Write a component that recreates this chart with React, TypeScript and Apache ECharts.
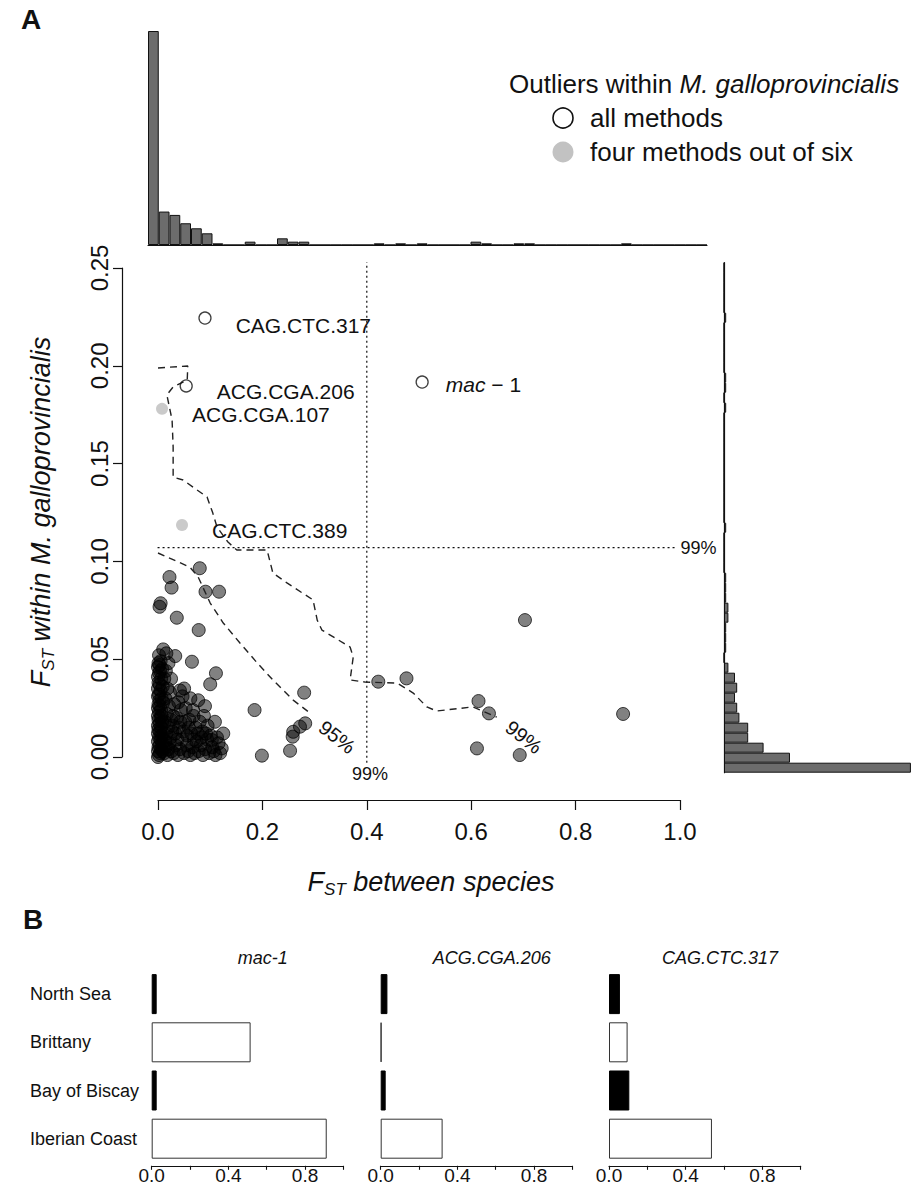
import React, { useEffect, useRef } from "react";
import * as echarts from "echarts";

const FONT = '"Liberation Sans", Arial, Helvetica, sans-serif';

// ---------- Panel A: tick labels ----------
const mainXTicks = ["0.0", "0.2", "0.4", "0.6", "0.8", "1.0"];
const mainYTicks = ["0.00", "0.05", "0.10", "0.15", "0.20", "0.25"];

// ---------- Panel A: SNP points (FST between species, FST within M. galloprovincialis) ----------
const snpPoints: [number, number][] = [
  // column near x = 0
  [0.0, 0.0], [0.002, 0.001], [0.004, 0.002], [0.0, 0.003], [0.006, 0.004], [0.001, 0.005],
  [0.003, 0.006], [0.008, 0.007], [0.0, 0.008], [0.005, 0.009], [0.002, 0.01], [0.007, 0.011],
  [0.0, 0.012], [0.004, 0.013], [0.001, 0.014], [0.006, 0.015], [0.0, 0.016], [0.003, 0.017],
  [0.008, 0.018], [0.001, 0.019], [0.005, 0.02], [0.0, 0.021], [0.002, 0.023], [0.006, 0.024],
  [0.0, 0.025], [0.004, 0.026], [0.001, 0.027], [0.003, 0.029], [0.007, 0.03], [0.0, 0.031],
  [0.002, 0.032], [0.005, 0.034], [0.0, 0.035], [0.003, 0.037], [0.001, 0.038], [0.006, 0.04],
  [0.0, 0.041], [0.002, 0.043], [0.004, 0.044], [0.0, 0.046], [0.003, 0.047], [0.001, 0.048],
  [0.005, 0.049], [0.002, 0.052], [0.009, 0.003], [0.011, 0.009], [0.007, 0.021], [0.01, 0.028],
  [0.009, 0.036], [0.008, 0.045],
  // x 0.01 - 0.03
  [0.012, 0.002], [0.015, 0.005], [0.018, 0.001], [0.014, 0.008], [0.02, 0.004], [0.016, 0.012],
  [0.022, 0.007], [0.013, 0.018], [0.019, 0.015], [0.024, 0.01], [0.017, 0.022], [0.021, 0.026],
  [0.014, 0.03], [0.025, 0.019], [0.018, 0.035], [0.012, 0.04], [0.023, 0.033], [0.015, 0.044],
  [0.026, 0.003], [0.027, 0.013], [0.029, 0.021], [0.02, 0.048], [0.025, 0.04], [0.016, 0.053],
  // x 0.03 - 0.06
  [0.03, 0.002], [0.034, 0.006], [0.038, 0.001], [0.042, 0.004], [0.046, 0.009], [0.05, 0.002],
  [0.055, 0.006], [0.033, 0.012], [0.04, 0.015], [0.048, 0.013], [0.036, 0.02], [0.052, 0.018],
  [0.044, 0.024], [0.031, 0.027], [0.056, 0.011], [0.058, 0.003], [0.028, 0.016], [0.047, 0.031],
  [0.037, 0.009], [0.039, 0.028], [0.043, 0.018], [0.053, 0.025], [0.059, 0.015], [0.05, 0.035],
  // x 0.06 - 0.125
  [0.062, 0.001], [0.066, 0.005], [0.07, 0.002], [0.074, 0.008], [0.078, 0.003], [0.082, 0.006],
  [0.086, 0.001], [0.09, 0.004], [0.094, 0.009], [0.098, 0.002], [0.104, 0.005], [0.11, 0.001],
  [0.116, 0.007], [0.064, 0.012], [0.072, 0.015], [0.085, 0.013], [0.095, 0.016], [0.06, 0.019],
  [0.08, 0.018], [0.088, 0.021], [0.069, 0.009], [0.076, 0.012], [0.083, 0.01], [0.092, 0.012],
  [0.101, 0.011], [0.107, 0.003], [0.113, 0.01], [0.119, 0.002], [0.068, 0.021], [0.062, 0.03],
  [0.09, 0.026],
  // scattered points
  [0.08, 0.0965], [0.022, 0.092], [0.026, 0.0866], [0.091, 0.0845], [0.117, 0.0845],
  [0.005, 0.0786], [0.003, 0.0768], [0.036, 0.0712], [0.078, 0.0649], [0.01, 0.055],
  [0.033, 0.0516], [0.065, 0.0487], [0.111, 0.0428], [0.1, 0.0372], [0.042, 0.034],
  [0.077, 0.029], [0.067, 0.024], [0.109, 0.018], [0.125, 0.012], [0.122, 0.0044],
  [0.103, 0.0087], [0.185, 0.024], [0.199, 0.0007], [0.28, 0.0329], [0.282, 0.0172],
  [0.272, 0.0155], [0.259, 0.0129], [0.258, 0.0104], [0.253, 0.0032], [0.422, 0.0385],
  [0.476, 0.0402], [0.703, 0.07], [0.614, 0.0286], [0.634, 0.0223], [0.611, 0.0044],
  [0.693, 0.001], [0.891, 0.022],
];

// ---------- Panel A: outliers ----------
const allMethodsNames = ["CAG.CTC.317", "mac-1", "ACG.CGA.206"];
const allMethodsX = [0.09, 0.506, 0.054];
const allMethodsY = [0.2244, 0.1917, 0.1897];
const fourMethodsNames = ["ACG.CGA.107", "CAG.CTC.389"];
const fourMethodsX = [0.0077, 0.046];
const fourMethodsY = [0.178, 0.1186];

// ---------- Panel A: quantile contours and thresholds ----------
const contour95: [number, number][] = [
  [0.0, 0.1043], [0.061, 0.0971], [0.077, 0.092], [0.1, 0.0787], [0.125, 0.0685],
  [0.157, 0.0583], [0.19, 0.0481], [0.22, 0.0394], [0.259, 0.0291], [0.291, 0.0225],
];
const contour99: [number, number][] = [
  [0.0, 0.1989], [0.057, 0.1999], [0.056, 0.1927], [0.029, 0.1892], [0.017, 0.1851],
  [0.027, 0.1723], [0.029, 0.1585], [0.029, 0.1431], [0.048, 0.1416], [0.094, 0.1329],
  [0.105, 0.1247], [0.113, 0.1176], [0.134, 0.1099], [0.151, 0.1058], [0.209, 0.1058],
  [0.22, 0.0941], [0.247, 0.089], [0.297, 0.0803], [0.305, 0.07], [0.314, 0.0649],
  [0.368, 0.0562], [0.374, 0.0511], [0.368, 0.0394], [0.397, 0.0383], [0.458, 0.0378],
  [0.489, 0.0327], [0.515, 0.0256], [0.534, 0.0235], [0.603, 0.0256], [0.649, 0.0204],
];
const fstWithin99 = 0.107;
const fstBetween99 = 0.4;
const thresholdXRange = [-0.02, 0.995];
const thresholdYRange = [-0.003, 0.253];
const thresholdLabels = ["95%", "99%", "99%", "99%"];
const thresholdLabelX = [0.343, 0.701, 1.0, 0.406];
const thresholdLabelY = [0.0102, 0.0102, 0.1069, -0.0085];

// ---------- Panel A: marginal histograms (counts per bin) ----------
const topHistCounts = [
  128, 20, 18, 13, 10, 7, 1, 0, 0, 2, 0, 0, 4, 2, 2, 0, 0, 0, 0, 0, 0, 1, 0, 1, 0, 1,
  0, 0, 0, 0, 2, 1, 0, 0, 1, 1, 0, 0, 0, 0, 0, 0, 0, 0, 1, 0, 0, 0, 0, 0, 0, 0,
];
const rightHistCounts = [
  85, 30, 18, 11, 11, 7, 6, 5, 6, 5, 2, 0, 1, 1, 1, 2, 2, 1, 1, 1, 0, 0, 0, 0, 1, 0,
  0, 0, 0, 0, 0, 0, 0, 0, 0, 0, 1, 0, 1, 1, 0, 0, 0, 0, 0, 1, 0, 0, 0, 0, 0,
];

// ---------- Panel B ----------
const populations = ["North Sea", "Brittany", "Bay of Biscay", "Iberian Coast"];
const lociNames = ["mac-1", "ACG.CGA.206", "CAG.CTC.317"];
const mac1Values = [0.026, 0.516, 0.026, 0.913];
const acg206Values = [0.035, 0.004, 0.026, 0.323];
const cag317Values = [0.057, 0.097, 0.106, 0.537];
const populationFills = ["#000000", "#ffffff", "#000000", "#ffffff"];
const panelBTicks = ["0.0", "", "0.4", "", "0.8", ""];

const labelStyle: Record<string, { distance: number; offset: [number, number] }> = {
  "CAG.CTC.317": { distance: 24, offset: [0, 7] },
  "mac-1": { distance: 17, offset: [0, 2] },
  "ACG.CGA.206": { distance: 24, offset: [0, 6] },
  "ACG.CGA.107": { distance: 24, offset: [0, 6] },
  "CAG.CTC.389": { distance: 24, offset: [0, 5] },
};

export default function App() {
  const ref = useRef<HTMLDivElement>(null);

  useEffect(() => {
    if (!ref.current) return;
    const chart = echarts.init(ref.current, undefined, { renderer: "svg" });

    const textColor = "#111111";
    const dashed = { color: "#222", width: 1.4, type: [7, 5] as number[] };
    const dotted = { color: "#111", width: 1.2, type: [2, 3] as number[] };

    const outlierLabel = (name: string) => {
      const s = labelStyle[name];
      return {
        show: true,
        position: "right",
        distance: s.distance,
        offset: s.offset,
        fontFamily: FONT,
        fontSize: 21,
        color: textColor,
        opacity: 1,
        textBorderWidth: 0,
        formatter: name === "mac-1" ? "{i|mac} − 1" : name,
        rich: { i: { fontStyle: "italic", fontSize: 21, fontFamily: FONT, color: textColor } },
      };
    };

    const panelBGrids = [151.7, 380.7, 609].map((left) => ({
      left,
      top: 970,
      width: 191.7,
      height: 192.8,
    }));
    const panelBValues = [mac1Values, acg206Values, cag317Values];

    const option: any = {
      animation: false,
      textStyle: { fontFamily: FONT },
      grid: [
        { left: 158, top: 268, width: 522, height: 489 },
        { left: 148, top: 31, width: 559, height: 214 },
        { left: 724, top: 262.7, width: 190, height: 510 },
        ...panelBGrids,
      ],
      xAxis: [
        {
          gridIndex: 0,
          type: "value",
          min: 0,
          max: 1,
          interval: 0.2,
          offset: 43,
          axisLine: { show: true, onZero: false, lineStyle: { color: "#111", width: 1.2 } },
          axisTick: { show: true, length: 10, lineStyle: { color: "#111", width: 1.2 } },
          axisLabel: {
            fontSize: 24,
            color: textColor,
            margin: 19,
            fontFamily: FONT,
            showMinLabel: true,
            showMaxLabel: true,
            formatter: (_v: number, i: number) => mainXTicks[i],
          },
          splitLine: { show: false },
        },
        {
          gridIndex: 1,
          type: "category",
          data: topHistCounts.map((_, i) => String(i)),
          axisLine: { show: true, onZero: false, lineStyle: { color: "#111", width: 1.2 } },
          axisTick: { show: false },
          axisLabel: { show: false },
        },
        { gridIndex: 2, type: "value", min: 0, max: 86.4, show: false },
        ...panelBGrids.map((_, gi) => ({
          gridIndex: 3 + gi,
          type: "value",
          min: 0,
          max: 1,
          interval: 0.2,
          offset: 3,
          axisLine: { show: true, onZero: false, lineStyle: { color: "#111", width: 1.1 } },
          axisTick: { show: true, length: 4, lineStyle: { color: "#111", width: 1.1 } },
          axisLabel: {
            fontSize: 19,
            color: textColor,
            margin: 0,
            fontFamily: FONT,
            showMinLabel: true,
            showMaxLabel: true,
            formatter: (_v: number, i: number) => panelBTicks[i],
          },
          splitLine: { show: false },
        })),
      ],
      yAxis: [
        {
          gridIndex: 0,
          type: "value",
          min: 0,
          max: 0.25,
          interval: 0.05,
          offset: 36,
          axisLine: { show: true, onZero: false, lineStyle: { color: "#111", width: 1.2 } },
          axisTick: { show: true, length: 9, lineStyle: { color: "#111", width: 1.2 } },
          axisLabel: {
            fontSize: 24,
            color: textColor,
            margin: 11,
            rotate: 90,
            fontFamily: FONT,
            showMinLabel: true,
            showMaxLabel: true,
            formatter: (_v: number, i: number) => mainYTicks[i],
          },
          splitLine: { show: false },
        },
        { gridIndex: 1, type: "value", min: 0, max: 128, show: false },
        {
          gridIndex: 2,
          type: "category",
          data: rightHistCounts.map((_, i) => String(i)),
          axisLine: { show: true, onZero: false, lineStyle: { color: "#111", width: 1.2 } },
          axisTick: { show: false },
          axisLabel: { show: false },
        },
        ...panelBGrids.map((_, gi) => ({
          gridIndex: 3 + gi,
          type: "category",
          inverse: true,
          data: populations,
          axisLine: { show: false },
          axisTick: { show: false },
          axisLabel: {
            show: gi === 0,
            align: "left",
            margin: 121.7,
            fontSize: 18,
            color: textColor,
            fontFamily: FONT,
          },
        })),
      ],
      series: [
        {
          type: "scatter",
          xAxisIndex: 0,
          yAxisIndex: 0,
          data: snpPoints,
          symbolSize: 13,
          clip: false,
          z: 2,
          itemStyle: { color: "rgba(0,0,0,0.62)", borderColor: "rgba(0,0,0,0.9)", borderWidth: 1 },
        },
        {
          type: "line",
          xAxisIndex: 0,
          yAxisIndex: 0,
          data: contour95,
          symbol: "none",
          clip: false,
          z: 3,
          lineStyle: dashed,
        },
        {
          type: "line",
          xAxisIndex: 0,
          yAxisIndex: 0,
          data: contour99,
          symbol: "none",
          clip: false,
          z: 3,
          lineStyle: dashed,
        },
        {
          type: "line",
          xAxisIndex: 0,
          yAxisIndex: 0,
          data: thresholdXRange.map((x) => [x, fstWithin99]),
          symbol: "none",
          clip: false,
          z: 3,
          lineStyle: dotted,
        },
        {
          type: "line",
          xAxisIndex: 0,
          yAxisIndex: 0,
          data: thresholdYRange.map((y) => [fstBetween99, y]),
          symbol: "none",
          clip: false,
          z: 3,
          lineStyle: dotted,
        },
        {
          type: "scatter",
          xAxisIndex: 0,
          yAxisIndex: 0,
          clip: false,
          z: 4,
          symbolSize: 12,
          itemStyle: { color: "rgba(255,255,255,0)", borderColor: "#111", borderWidth: 1.3 },
          data: allMethodsNames.map((name, i) => ({
            name,
            value: [allMethodsX[i], allMethodsY[i]],
            label: outlierLabel(name),
          })),
        },
        {
          type: "scatter",
          xAxisIndex: 0,
          yAxisIndex: 0,
          clip: false,
          z: 4,
          symbolSize: 12,
          itemStyle: { color: "#bdbdbd" },
          data: fourMethodsNames.map((name, i) => ({
            name,
            value: [fourMethodsX[i], fourMethodsY[i]],
            label: outlierLabel(name),
          })),
        },
        {
          type: "scatter",
          xAxisIndex: 0,
          yAxisIndex: 0,
          clip: false,
          z: 4,
          symbolSize: 1,
          itemStyle: { color: "rgba(0,0,0,0)" },
          data: thresholdLabels.map((t, i) => ({
            value: [thresholdLabelX[i], thresholdLabelY[i]],
            label: {
              show: true,
              formatter: t,
              fontSize: i < 2 ? 20 : 18,
              color: textColor,
              opacity: 1,
              textBorderWidth: 0,
              fontFamily: FONT,
              position: i === 2 ? "right" : "inside",
              distance: 0,
              rotate: i < 2 ? -38 : 0,
            },
          })),
        },
        {
          type: "bar",
          xAxisIndex: 1,
          yAxisIndex: 1,
          data: topHistCounts,
          barCategoryGap: "0%",
          itemStyle: { color: "#6c6c6c", borderColor: "#111", borderWidth: 1 },
        },
        {
          type: "bar",
          xAxisIndex: 2,
          yAxisIndex: 2,
          data: rightHistCounts,
          barCategoryGap: "0%",
          itemStyle: { color: "#6c6c6c", borderColor: "#111", borderWidth: 1 },
        },
        ...panelBValues.map((vals, gi) => ({
          type: "bar",
          xAxisIndex: 3 + gi,
          yAxisIndex: 3 + gi,
          barCategoryGap: "17%",
          data: vals.map((v, i) => ({
            value: v,
            itemStyle: {
              color: populationFills[i],
              borderColor: populationFills[i] === "#000000" ? "#000" : "#333",
              borderWidth: 1,
            },
          })),
        })),
      ],
      graphic: [
        {
          type: "text",
          x: 21,
          y: 19,
          style: { text: "A", font: `bold 28px ${FONT}`, fill: "#111", verticalAlign: "middle" },
        },
        {
          type: "text",
          x: 23,
          y: 919,
          style: { text: "B", font: `bold 28px ${FONT}`, fill: "#111", verticalAlign: "middle" },
        },
        // legend
        {
          type: "text",
          x: 509,
          y: 84,
          style: {
            text: "Outliers within {i|M. galloprovincialis}",
            font: `26px ${FONT}`,
            fill: textColor,
            verticalAlign: "middle",
            rich: { i: { fontStyle: "italic", fontSize: 26, fontFamily: FONT, fill: textColor } },
          },
        },
        {
          type: "circle",
          shape: { cx: 563, cy: 118, r: 10 },
          style: { fill: "none", stroke: "#111", lineWidth: 1.6 },
        },
        {
          type: "text",
          x: 590,
          y: 118,
          style: { text: "all methods", font: `26px ${FONT}`, fill: textColor, verticalAlign: "middle" },
        },
        {
          type: "circle",
          shape: { cx: 563, cy: 152, r: 10.5 },
          style: { fill: "#c2c2c2" },
        },
        {
          type: "text",
          x: 590,
          y: 152,
          style: {
            text: "four methods out of six",
            font: `26px ${FONT}`,
            fill: textColor,
            verticalAlign: "middle",
          },
        },
        // axis titles
        {
          type: "text",
          x: 431,
          y: 882,
          style: {
            text: "{f|F}{s|ST}{t| between species}",
            align: "center",
            verticalAlign: "middle",
            rich: {
              f: { fontSize: 27, fontStyle: "italic", fontFamily: FONT, fill: textColor, lineHeight: 32 },
              s: { fontSize: 17, fontStyle: "italic", fontFamily: FONT, fill: textColor, verticalAlign: "bottom" },
              t: { fontSize: 27, fontStyle: "italic", fontFamily: FONT, fill: textColor, lineHeight: 32 },
            },
          },
        },
        {
          type: "text",
          x: 41,
          y: 512,
          rotation: Math.PI / 2,
          style: {
            text: "{f|F}{s|ST}{t| within M. galloprovincialis}",
            align: "center",
            verticalAlign: "middle",
            rich: {
              f: { fontSize: 27, fontStyle: "italic", fontFamily: FONT, fill: textColor, lineHeight: 32 },
              s: { fontSize: 17, fontStyle: "italic", fontFamily: FONT, fill: textColor, verticalAlign: "bottom" },
              t: { fontSize: 27, fontStyle: "italic", fontFamily: FONT, fill: textColor, lineHeight: 32 },
            },
          },
        },
        // panel B titles
        ...lociNames.map((name, gi) => ({
          type: "text",
          x: panelBGrids[gi].left + 111,
          y: 958,
          style: {
            text: name,
            font: `italic 18px ${FONT}`,
            fill: textColor,
            align: "center",
            verticalAlign: "middle",
          },
        })),
      ],
    };

    chart.setOption(option);
    return () => chart.dispose();
  }, []);

  return (
    <div
      ref={ref}
      style={{ position: "absolute", left: 0, top: 0, width: 914, height: 1185, background: "#fff" }}
    />
  );
}
